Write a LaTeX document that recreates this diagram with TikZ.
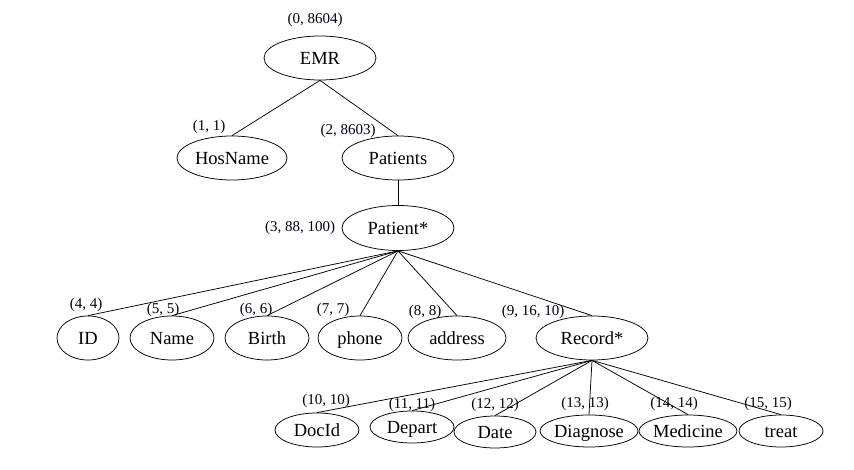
\documentclass[tikz,border=0pt]{standalone}
\usepackage{fontspec}
\setmainfont{Liberation Serif}
\usetikzlibrary{shapes.geometric}
\newcommand{\nt}[1]{\makebox[0pt]{\smash{\raisebox{-0.33em}{#1}}}}
\begin{document}
\begin{tikzpicture}[x=1pt,y=-1pt,
  ent/.style={ellipse, draw, line width=0.75pt, inner sep=0pt, font=\fontsize{18.5}{20}\selectfont},
  lab/.style={inner sep=0pt, font=\fontsize{15}{17}\selectfont, text=black!90!blue},
  edge/.style={line width=0.75pt}]
\useasboundingbox[fill=white] (0,0) rectangle (854,470);
% level 0-2
\node[ent, minimum width=112pt, minimum height=44pt] (emr) at (320,58) {\nt{EMR}};
\node[ent, minimum width=110pt, minimum height=44pt] (hos) at (232,158) {\nt{HosName}};
\node[ent, minimum width=112pt, minimum height=44pt] (pts) at (398,158) {\nt{Patients}};
\node[ent, minimum width=112pt, minimum height=45pt] (pt) at (398,228) {\nt{Patient*}};
% level 3
\node[ent, minimum width=62pt, minimum height=44pt] (id) at (88,338) {\nt{ID}};
\node[ent, minimum width=84pt, minimum height=44pt] (name) at (172,338) {\nt{Name}};
\node[ent, minimum width=84pt, minimum height=44pt] (birth) at (267,338) {\nt{Birth}};
\node[ent, minimum width=84pt, minimum height=44pt] (phone) at (360,338) {\nt{phone}};
\node[ent, minimum width=98pt, minimum height=44pt] (addr) at (457,338) {\nt{address}};
\node[ent, minimum width=112pt, minimum height=44pt] (rec) at (592,338) {\nt{Record*}};
% level 4
\node[ent, minimum width=84pt, minimum height=34pt] (doc) at (317,430) {\nt{DocId}};
\node[ent, minimum width=84pt, minimum height=32pt] (dep) at (412,427) {\nt{Depart}};
\node[ent, minimum width=82pt, minimum height=32pt] (date) at (495,432) {\nt{Date}};
\node[ent, minimum width=98pt, minimum height=32pt] (diag) at (589,431) {\nt{Diagnose}};
\node[ent, minimum width=98pt, minimum height=32pt] (med) at (688,431) {\nt{Medicine}};
\node[ent, minimum width=84pt, minimum height=32pt] (treat) at (781,431) {\nt{treat}};
% labels
\node[lab] (l0) at (315,20) {(0, 8604)};
\node[lab] (l1) at (209,127) {(1, 1)};
\node[lab] (l2) at (348,131) {(2, 8603)};
\node[lab] (l3) at (300,228) {(3, 88, 100)};
\node[lab] (l4) at (86,305) {(4, 4)};
\node[lab] (l5) at (163,310) {(5, 5)};
\node[lab] (l6) at (256,310) {(6, 6)};
\node[lab] (l7) at (333,310) {(7, 7)};
\node[lab] (l8) at (425,312) {(8, 8)};
\node[lab] (l9) at (533,312) {(9, 16, 10)};
\node[lab] (l10) at (326,401) {(10, 10)};
\node[lab] (l11) at (412,405) {(11, 11)};
\node[lab] (l12) at (495,405) {(12, 12)};
\node[lab] (l13) at (585,404) {(13, 13)};
\node[lab] (l14) at (674,404) {(14, 14)};
\node[lab] (l15) at (768,404) {(15, 15)};
% edges
\draw[edge] (emr.south) -- (hos.north);
\draw[edge] (emr.south) -- (pts.north);
\draw[edge] (pts.south) -- (pt.north);
\foreach \c in {id,name,birth,phone,addr,rec}
  \draw[edge] (pt.south) -- (\c.north);
\foreach \c in {doc,dep,date,diag,med,treat}
  \draw[edge] (rec.south) -- (\c.north);
\end{tikzpicture}
\end{document}
